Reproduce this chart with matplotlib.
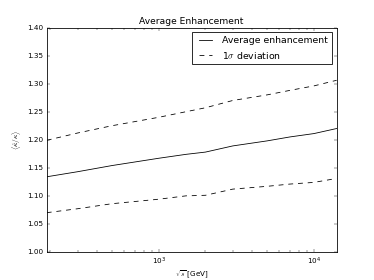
import matplotlib
matplotlib.use("Agg")
from matplotlib import pyplot as plt
import numpy as np

plt.style.use("classic")
plt.rcParams["font.size"] = 9

# sqrt(s) in GeV
energy = [190, 300, 500, 1000, 1500, 2000, 3000, 5000, 7000, 10000, 14000]
# average enhancement
avg_enh = [1.134, 1.143, 1.154, 1.167, 1.174, 1.178, 1.189, 1.198, 1.205, 1.211, 1.220]
# 1 sigma band
upper = [1.199, 1.212, 1.225, 1.240, 1.250, 1.257, 1.270, 1.280, 1.288, 1.296, 1.306]
lower = [1.070, 1.077, 1.086, 1.094, 1.100, 1.101, 1.112, 1.117, 1.121, 1.124, 1.131]

fig = plt.figure(figsize=(6.4, 4.8), dpi=374 / 6.4)
ax = fig.add_subplot(111)

ax.plot(energy, avg_enh, "k-", label="Average enhancement")
ax.plot(energy, upper, "k--", label=r"1$\sigma$ deviation")
ax.plot(energy, lower, "k--")

ax.set_xscale("log")
ax.set_xlim(energy[0], energy[-1])
ax.set_ylim(1.0, 1.4)
ax.set_yticks(np.arange(1.0, 1.401, 0.05))
ax.set_title("Average Enhancement", fontsize=11.3)
ax.set_xlabel(r"$\sqrt{s}$ [GeV]", labelpad=1)
ax.set_ylabel(r"$\langle \hat{\kappa}/\kappa \rangle$")
ax.legend(loc="upper right", fontsize=11.5)

fig.savefig("out.png", dpi=374 / 6.4)
